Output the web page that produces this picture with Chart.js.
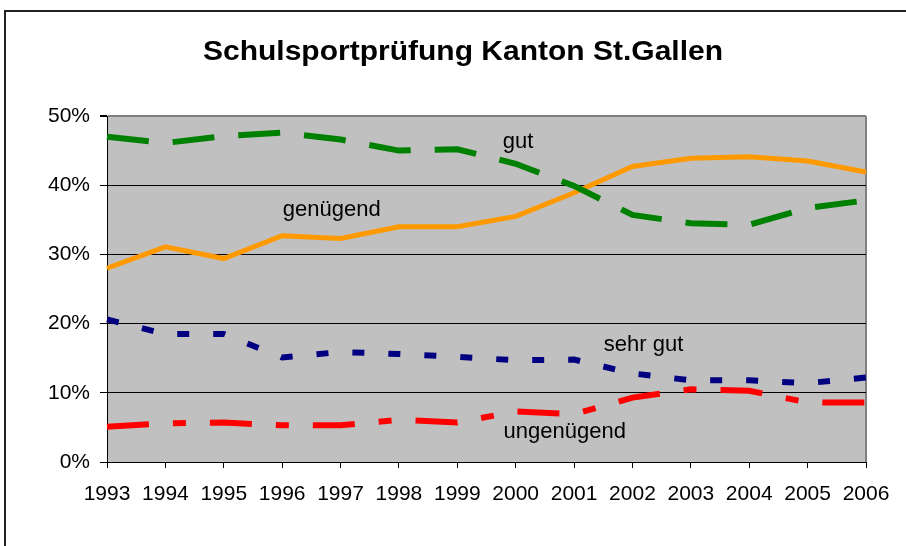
<!DOCTYPE html>
<html>
<head>
<meta charset="utf-8">
<script src="https://cdn.jsdelivr.net/npm/chart.js@4"></script>
<style>
  body { margin: 0; background: #fff; }
  #wrap { width: 906px; height: 546px; position: relative; }
</style>
</head>
<body>
<div id="wrap"><canvas id="lineChart"></canvas></div>
<script>
var years = ['1993', '1994', '1995', '1996', '1997', '1998', '1999', '2000', '2001', '2002', '2003', '2004', '2005', '2006'];
var gut = [47.0, 46.1, 47.1, 47.6, 46.6, 45.0, 45.2, 43.1, 39.9, 35.7, 34.5, 34.3, 36.7, 37.8];
var genuegend = [28.0, 31.1, 29.4, 32.7, 32.3, 34.0, 34.0, 35.5, 38.9, 42.7, 43.9, 44.1, 43.5, 41.9];
var sehrGut = [20.6, 18.5, 18.5, 15.1, 15.9, 15.6, 15.2, 14.7, 14.8, 12.8, 11.8, 11.8, 11.4, 12.2];
var ungenuegend = [5.1, 5.6, 5.7, 5.3, 5.3, 6.1, 5.7, 7.3, 6.9, 9.3, 10.5, 10.3, 8.6, 8.6];
var yTicks = [0, 10, 20, 30, 40, 50];
var titleText = 'Schulsportprüfung Kanton St.Gallen';

// text labels next to the lines: [text, year index, percent]
var lineLabels = [
    ['gut', 7.04, 46.2],
    ['genügend', 3.85, 36.4],
    ['sehr gut', 9.19, 16.9],
    ['ungenügend', 7.84, 4.3]
];

var framePlugin = {
    id: 'frame',
    beforeDraw: function (chart) {
        var c = chart.ctx, a = chart.chartArea;
        c.save();
        c.fillStyle = '#c0c0c0';
        c.fillRect(a.left, a.top, a.right - a.left, a.bottom - a.top);
        c.strokeStyle = '#808080';
        c.lineWidth = 2;
        c.beginPath();
        c.moveTo(a.right, a.top);
        c.lineTo(a.right, a.bottom);
        c.stroke();
        // outer chart border (cut off at right and bottom)
        c.strokeStyle = '#222';
        c.lineWidth = 2;
        c.strokeRect(5, 11, 1000, 1000);
        // title, stretched a bit to the width of the original
        c.font = 'bold 28px "Liberation Sans", Arial, sans-serif';
        c.fillStyle = '#000';
        c.textAlign = 'center';
        c.textBaseline = 'middle';
        var w = c.measureText(titleText).width;
        c.translate(463, 52);
        c.scale(520 / w, 1);
        c.fillText(titleText, 0, 0);
        c.restore();
    },
    afterDatasetsDraw: function (chart) {
        var c = chart.ctx, xs = chart.scales.x, ys = chart.scales.y;
        c.save();
        c.font = '22px "Liberation Sans", Arial, sans-serif';
        c.fillStyle = '#000';
        c.textAlign = 'center';
        c.textBaseline = 'middle';
        lineLabels.forEach(function (l) {
            c.fillText(l[0], xs.getPixelForValue(l[1]), ys.getPixelForValue(l[2]));
        });
        c.restore();
    }
};

var tickFont = { family: '"Liberation Sans", Arial, sans-serif', size: 21 };

new Chart(document.getElementById('lineChart'), {
    type: 'line',
    data: {
        labels: years,
        datasets: [
            { label: 'gut', data: gut, borderColor: '#008000', borderWidth: 6, borderDash: [42, 24] },
            { label: 'genügend', data: genuegend, borderColor: '#ff9900', borderWidth: 5 },
            { label: 'sehr gut', data: sehrGut, borderColor: '#000080', borderWidth: 6, borderDash: [12, 24] },
            { label: 'ungenügend', data: ungenuegend, borderColor: '#ff0000', borderWidth: 6, borderDash: [42, 24, 13, 24] }
        ]
    },
    options: {
        responsive: true,
        maintainAspectRatio: false,
        animation: false,
        elements: {
            point: { radius: 0 },
            line: { tension: 0, borderCapStyle: 'butt' }
        },
        layout: { padding: { left: 0, right: 40, top: 116, bottom: 0 } },
        plugins: {
            legend: { display: false },
            tooltip: { enabled: false },
            title: { display: false }
        },
        scales: {
            x: {
                offset: false,
                afterFit: function (s) { s.height = 84; },
                grid: { drawOnChartArea: false, drawTicks: true, tickLength: 6, color: '#000' },
                border: { color: '#000', width: 1 },
                ticks: { color: '#000', font: tickFont, padding: 14, maxRotation: 0, autoSkip: false }
            },
            y: {
                min: 0,
                max: 50,
                afterFit: function (s) { s.width = 107; },
                afterBuildTicks: function (s) { s.ticks = yTicks.map(function (v) { return { value: v }; }); },
                grid: {
                    color: function (ctx) { return ctx.tick && ctx.tick.value === 50 ? '#808080' : '#000'; },
                    lineWidth: function (ctx) { return ctx.tick && ctx.tick.value === 50 ? 2 : 1; },
                    tickColor: '#000',
                    tickLength: 7
                },
                border: { color: '#000', width: 1 },
                ticks: {
                    color: '#000',
                    font: tickFont,
                    padding: 10,
                    callback: function (v) { return v + '%'; }
                }
            }
        }
    },
    plugins: [framePlugin]
});
</script>
</body>
</html>
